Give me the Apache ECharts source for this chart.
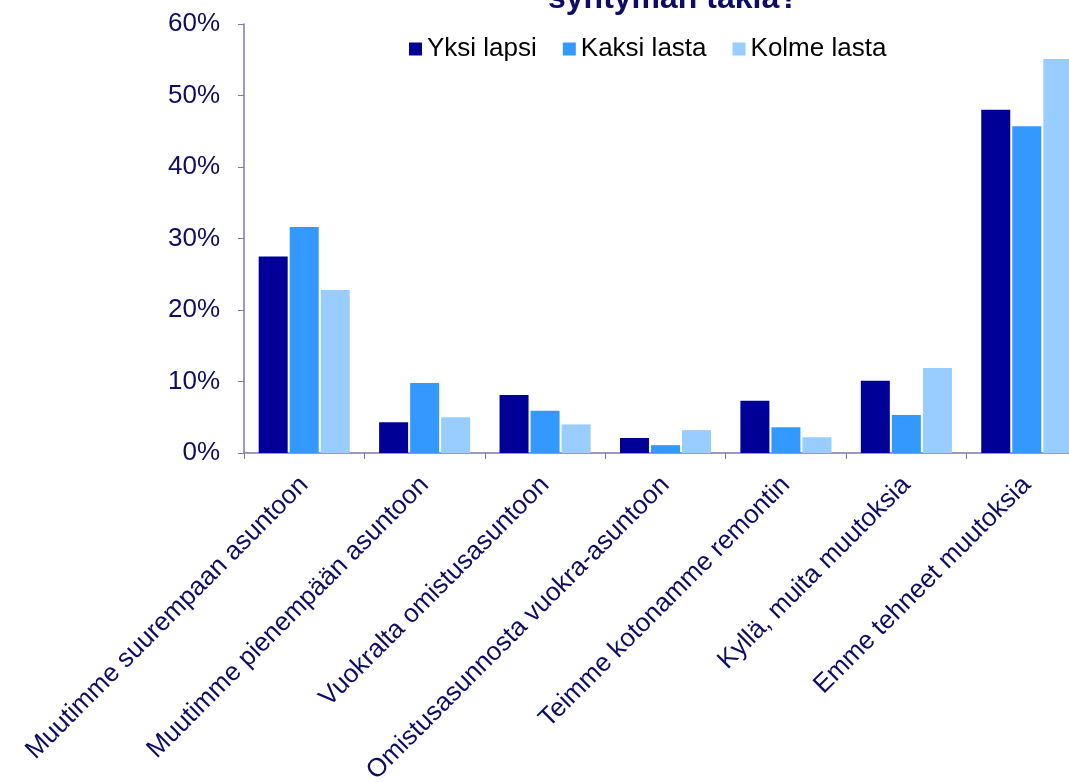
<!doctype html>
<html>
<head>
<meta charset="UTF-8">
<script src="https://cdn.jsdelivr.net/npm/echarts@6/dist/echarts.min.js"></script>
</head>
<body style="margin:0;background:#fff;">
<div id="chart" style="width:1069px;height:783px;"></div>
<script>
var categories = ['Muutimme suurempaan asuntoon', 'Muutimme pienempään asuntoon', 'Vuokralta omistusasuntoon',
    'Omistusasunnosta vuokra-asuntoon', 'Teimme kotonamme remontin', 'Kyllä, muita muutoksia', 'Emme tehneet muutoksia'];
var yksiLapsi = [27.5, 4.3, 8.1, 2.1, 7.3, 10.1, 48.0];
var kaksiLasta = [31.6, 9.8, 5.9, 1.1, 3.6, 5.3, 45.7];
var kolmeLasta = [22.8, 5.0, 4.0, 3.2, 2.2, 11.9, 55.1];
var yTicks = [0, 10, 20, 30, 40, 50, 60];

var navy = '#0d0d66';
var axisCol = '#7a7aaa';

var chart = echarts.init(document.getElementById('chart'));
var option = {
    animation: false,
    title: {
        text: 'syntymän takia?',
        left: 543,
        top: -22,
        textStyle: { fontFamily: 'Liberation Sans', fontWeight: 'bold', fontSize: 32, color: navy }
    },
    legend: {
        left: 404,
        top: 31,
        itemWidth: 13,
        itemHeight: 13,
        itemGap: 26,
        icon: 'rect',
        textStyle: { fontFamily: 'Liberation Sans', fontSize: 26, color: '#000' },
        data: ['Yksi lapsi', 'Kaksi lasta', 'Kolme lasta']
    },
    grid: { left: 244, width: 843, top: 24, bottom: 330, containLabel: false, outerBoundsMode: 'none' },
    xAxis: {
        type: 'category',
        data: categories,
        axisLine: { lineStyle: { color: axisCol, width: 1.5 } },
        axisTick: { show: true, length: 6, lineStyle: { color: axisCol } },
        axisLabel: {
            rotate: 45, margin: 28, interval: 0,
            fontFamily: 'Liberation Sans', fontSize: 26, color: navy
        }
    },
    yAxis: {
        type: 'value',
        min: yTicks[0],
        max: yTicks[yTicks.length - 1],
        interval: 10,
        splitLine: { show: false },
        axisLine: { show: true, lineStyle: { color: axisCol, width: 1.5 } },
        axisTick: { show: true, length: 6, lineStyle: { color: axisCol } },
        axisLabel: {
            margin: 24,
            formatter: '{value}%',
            fontFamily: 'Liberation Sans', fontSize: 26, color: navy
        }
    },
    series: [
        { name: 'Yksi lapsi', type: 'bar', data: yksiLapsi, barWidth: 29, barGap: '7%',
          itemStyle: { color: '#000099' } },
        { name: 'Kaksi lasta', type: 'bar', data: kaksiLasta, barWidth: 29, barGap: '7%',
          itemStyle: { color: '#3399ff' } },
        { name: 'Kolme lasta', type: 'bar', data: kolmeLasta, barWidth: 29, barGap: '7%',
          itemStyle: { color: '#99ccff' } }
    ]
};
chart.setOption(option);
</script>
</body>
</html>
